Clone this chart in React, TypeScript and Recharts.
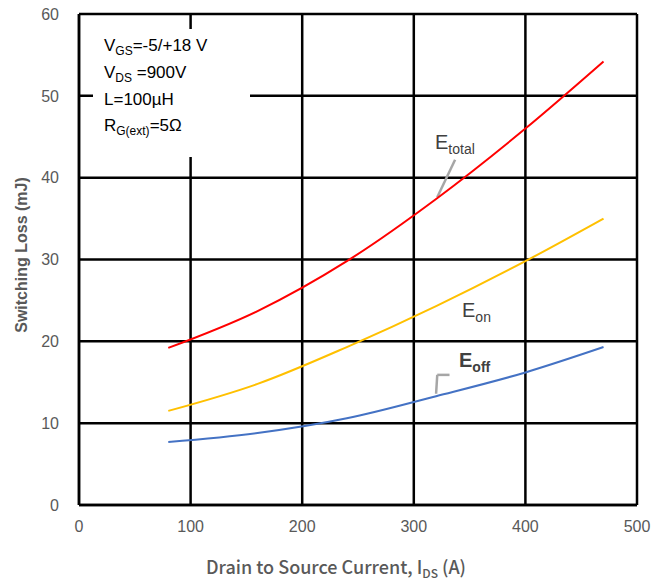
import React from 'react';
import { LineChart, Line, XAxis, YAxis, CartesianGrid, ReferenceLine } from 'recharts';

const current = [80, 160, 240, 320, 400, 470];
const eTotal = [19.2, 23.7, 29.8, 37.4, 46.0, 54.2];
const eOn = [11.5, 14.8, 19.3, 24.3, 29.8, 35.0];
const eOff = [7.7, 8.8, 10.6, 13.3, 16.2, 19.3];

const xTicks = [0, 100, 200, 300, 400, 500];
const yTicks = [0, 10, 20, 30, 40, 50, 60];

const data = current.map((c, i) => ({ ids: c, total: eTotal[i], on: eOn[i], off: eOff[i] }));

const tickFont = { fontSize: 16, fill: '#595959', fontFamily: '"Liberation Sans Narrow", "Liberation Sans", sans-serif' };
const label: React.CSSProperties = { position: 'absolute', color: '#404040', fontFamily: '"Liberation Sans", Arial, sans-serif', fontSize: 20, lineHeight: 1 };
const sub: React.CSSProperties = { fontSize: 14, position: 'relative', top: 5 };
const boxSub: React.CSSProperties = { fontSize: 12, position: 'relative', top: 4 };

const App: React.FC = () => {
  return (
    <div style={{ position: 'absolute', left: 0, top: 0, width: 672, height: 580, background: '#fff' }}>
      <LineChart width={672} height={580} data={data} margin={{ top: 14, right: 35, bottom: 45, left: 39 }}>
        <CartesianGrid stroke="#000" strokeWidth={2.5} />
        <XAxis
          dataKey="ids"
          type="number"
          domain={[0, 500]}
          ticks={xTicks}
          height={30}
          stroke="#000"
          strokeWidth={2.5}
          tickLine={false}
          tickMargin={10}
          tick={tickFont}
        />
        <YAxis
          type="number"
          domain={[0, 60]}
          ticks={yTicks}
          width={40}
          stroke="#000"
          strokeWidth={2.5}
          tickLine={false}
          tickMargin={14}
          tick={tickFont}
        />
        <ReferenceLine segment={[{ x: 337, y: 42.2 }, { x: 321, y: 37.6 }]} stroke="#a6a6a6" strokeWidth={2.5} />
        <ReferenceLine segment={[{ x: 332, y: 15.9 }, { x: 321, y: 15.9 }]} stroke="#a6a6a6" strokeWidth={2.5} />
        <ReferenceLine segment={[{ x: 321, y: 15.9 }, { x: 320, y: 13.6 }]} stroke="#a6a6a6" strokeWidth={2.5} />
        <Line dataKey="total" type="monotone" stroke="#ff0000" strokeWidth={2} dot={false} isAnimationActive={false} />
        <Line dataKey="on" type="monotone" stroke="#ffc000" strokeWidth={2} dot={false} isAnimationActive={false} />
        <Line dataKey="off" type="monotone" stroke="#4472c4" strokeWidth={2} dot={false} isAnimationActive={false} />
      </LineChart>

      {/* condition box */}
      <div style={{ position: 'absolute', left: 93, top: 29, width: 157, height: 128, background: '#fff', fontFamily: '"Liberation Sans", Arial, sans-serif', fontSize: 17, color: '#000', lineHeight: '26px', paddingLeft: 11, paddingTop: 4, boxSizing: 'border-box' }}>
        <div>V<span style={boxSub}>GS</span>=-5/+18 V</div>
        <div>V<span style={boxSub}>DS</span> =900V</div>
        <div>L=100µH</div>
        <div>R<span style={boxSub}>G(ext)</span>=5Ω</div>
      </div>

      <div style={{ ...label, left: 435, top: 132 }}>E<span style={sub}>total</span></div>
      <div style={{ ...label, left: 462, top: 300 }}>E<span style={sub}>on</span></div>
      <div style={{ ...label, left: 459, top: 350, fontWeight: 'bold' }}>E<span style={{ ...sub, fontWeight: 'bold' }}>off</span></div>

      <div style={{ position: 'absolute', left: 22, top: 255, transform: 'translate(-50%, -50%) rotate(-90deg)', whiteSpace: 'nowrap', fontFamily: '"Liberation Sans", Arial, sans-serif', fontSize: 16, fontWeight: 600, color: '#595959' }}>
        Switching Loss (mJ)
      </div>
      <div style={{ position: 'absolute', left: 0, width: 672, top: 553, textAlign: 'center', fontFamily: '"Noto Sans CJK JP", "Noto Sans", sans-serif', fontSize: 18, fontWeight: 500, color: '#595959' }}>
        Drain to Source Current, I<span style={{ fontSize: 12, position: 'relative', top: 4 }}>DS</span> (A)
      </div>
    </div>
  );
};

export default App;
